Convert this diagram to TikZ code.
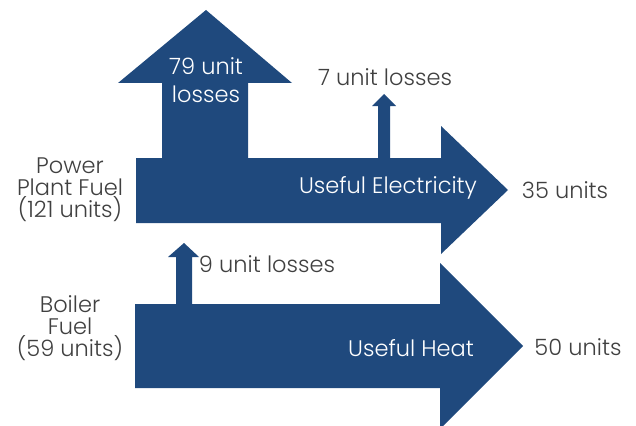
\documentclass[tikz,border=0pt]{standalone}
\usepackage{fontspec}
\setmainfont{Poppins}[UprightFont=* Light]
\definecolor{flow}{RGB}{31,73,125}
\definecolor{txt}{RGB}{64,64,64}
\begin{document}
\begin{tikzpicture}[x=1pt,y=-1pt,
  lbl/.style={text=txt,font=\fontsize{22.5}{22}\selectfont,inner sep=0pt,align=center},
  wlbl/.style={text=white,font=\fontsize{22.5}{28}\selectfont,inner sep=0pt,align=center}]
\useasboundingbox (0,0) rectangle (636,425);
% power plant flow
\fill[flow] (136,158) -- (162,158) -- (162,83) -- (118,83) -- (206,10) -- (292,83) -- (248,83) -- (248,158)
  -- (378,158) -- (378,106) -- (372,106) -- (384,94) -- (396,106) -- (390,106) -- (390,158)
  -- (441,158) -- (441,126) -- (508,190) -- (441,254) -- (441,223) -- (136,223) -- cycle;
% boiler flow
\fill[flow] (135,304) -- (176,304) -- (176,257) -- (168,257) -- (184,243) -- (199,257) -- (192,257) -- (192,304)
  -- (440,304) -- (440,263) -- (523,346) -- (440,429) -- (440,388) -- (135,388) -- cycle;
% labels
\node[wlbl] (l79) at (206,80) {79 unit\\losses};
\node[lbl] (l7) at (385,77) {7 unit losses};
\node[wlbl] (ue) at (388,188) {Useful Electricity};
\node[lbl] (u35) at (565,190) {35 units};
\node[lbl] (l9) at (267,264) {9 unit losses};
\node[wlbl] (uh) at (411,348) {Useful Heat};
\node[lbl] (u50) at (578,347) {50 units};
\node[lbl] (ppf) at (70,190) {Power\\Plant Fuel\\(121 units)};
\node[lbl] (bf) at (70,328) {Boiler\\Fuel\\(59 units)};
\end{tikzpicture}
\end{document}
